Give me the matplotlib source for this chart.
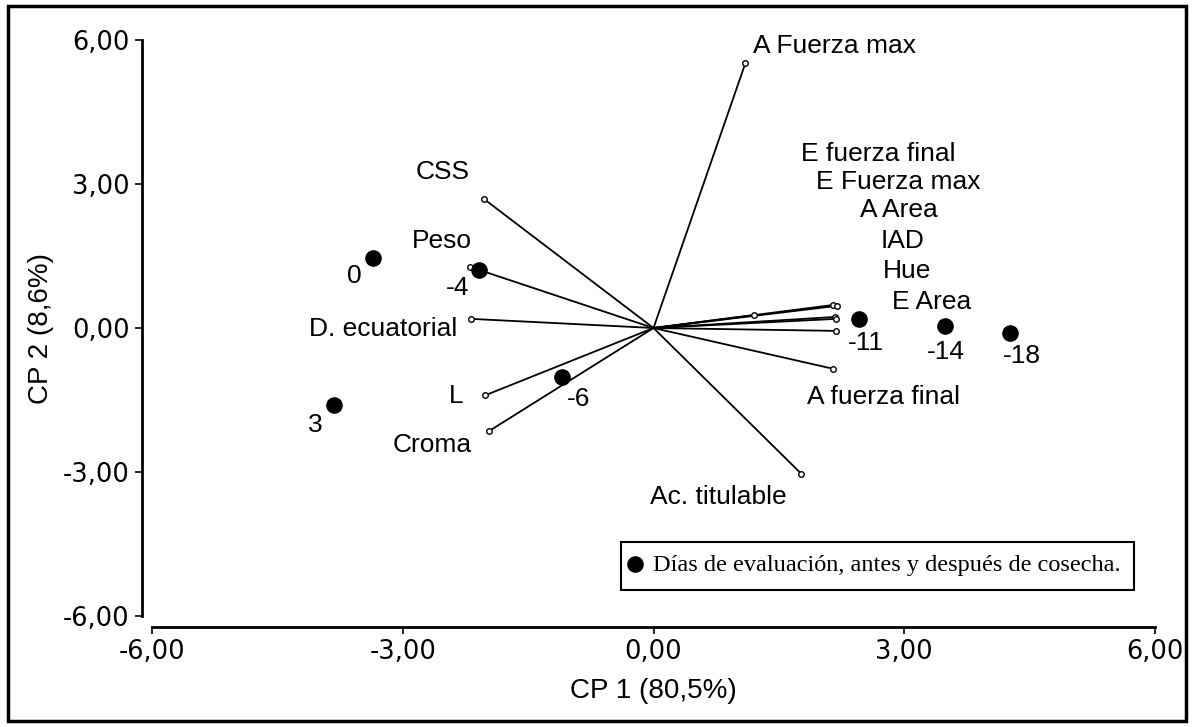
import matplotlib
matplotlib.use("Agg")
import matplotlib.pyplot as plt
from matplotlib.patches import Rectangle
from matplotlib.ticker import FixedLocator, FuncFormatter

# variable loadings (CP1, CP2)
var_names = ["A Fuerza max", "CSS", "Peso", "D. ecuatorial", "L", "Croma",
             "Ac. titulable", "A fuerza final", "E fuerza final", "E Fuerza max",
             "A Area", "IAD", "Hue", "E Area"]
var_cp1 = [1.10, -2.03, -2.19, -2.18, -2.01, -1.97, 1.77, 2.15, 2.15, 2.19,
           2.17, 2.18, 2.18, 1.20]
var_cp2 = [5.52, 2.69, 1.27, 0.19, -1.40, -2.15, -3.04, -0.85, 0.48, 0.46,
           0.23, 0.19, -0.06, 0.27]

# evaluation days (scores)
day_labels = ["0", "-4", "3", "-6", "-11", "-14", "-18"]
day_cp1 = [-3.35, -2.09, -3.82, -1.10, 2.46, 3.49, 4.26]
day_cp2 = [1.46, 1.21, -1.60, -1.02, 0.19, 0.04, -0.10]

ticks = [-6, -3, 0, 3, 6]

W, H = 1194, 727
fig = plt.figure(figsize=(W / 100, H / 100), dpi=100)
ax = fig.add_axes([152 / W, 1 - 616 / H, (1155 - 152) / W, (616 - 40) / H])
sans = "Liberation Sans"
fs = 19

for x, y in zip(var_cp1, var_cp2):
    ax.plot([0, x], [0, y], color="black", lw=1.3, zorder=2)
ax.scatter(var_cp1, var_cp2, s=16, facecolor="white", edgecolor="black",
           linewidths=1.0, zorder=3)
ax.scatter(day_cp1, day_cp2, s=120, color="black", zorder=4)


def px(x, y):
    # pixel position -> data coordinates
    return (x - 653) / 83.6, (328 - y) / 48.0


var_text = {
    "A Fuerza max": (753, 46, "left"),
    "CSS": (442, 172, "center"),
    "Peso": (441, 241, "center"),
    "D. ecuatorial": (457, 329, "right"),
    "L": (456, 396, "center"),
    "Croma": (432, 445, "center"),
    "Ac. titulable": (718, 497, "center"),
    "E fuerza final": (878, 154, "center"),
    "E Fuerza max": (898, 182, "center"),
    "A Area": (898, 210, "center"),
    "IAD": (902, 241, "center"),
    "Hue": (907, 271, "center"),
    "E Area": (931, 302, "center"),
    "A fuerza final": (883, 397, "center"),
}
for name in var_names:
    x, y, ha = var_text[name]
    tx, ty = px(x, y)
    ax.text(tx, ty, name, ha=ha, va="center", fontsize=fs, family=sans)

day_text = {"0": (354, 276), "-4": (457, 288), "3": (315, 425),
            "-6": (578, 399), "-11": (865, 343), "-14": (945, 352),
            "-18": (1021, 356)}
for lab in day_labels:
    tx, ty = px(*day_text[lab])
    ax.text(tx, ty, lab, ha="center", va="center", fontsize=fs, family=sans)

ax.set_xlim(-6, 6)
ax.set_ylim(-6, 6)
ax.xaxis.set_major_locator(FixedLocator(ticks))
ax.yaxis.set_major_locator(FixedLocator(ticks))
fmt = FuncFormatter(lambda v, p: f"{v:.2f}".replace(".", ","))
ax.xaxis.set_major_formatter(fmt)
ax.yaxis.set_major_formatter(fmt)
for lab in ax.get_xticklabels() + ax.get_yticklabels():
    lab.set_family(sans)
ax.tick_params(labelsize=18.5, width=1.2, length=5, pad=4)
ax.spines["top"].set_visible(False)
ax.spines["right"].set_visible(False)
ax.spines["left"].set_position(("outward", 7.2))
ax.spines["bottom"].set_position(("outward", 7.9))
for s in ("left", "bottom"):
    ax.spines[s].set_linewidth(2)
ax.set_xlabel("CP 1 (80,5%)", fontsize=20, family=sans, labelpad=9)
ax.set_ylabel("CP 2 (8,6%)", fontsize=20, family=sans, labelpad=6)

# legend box
leg_x0, leg_y0 = px(620, 590)
leg_x1, leg_y1 = px(1134, 542)
ax.add_patch(Rectangle((leg_x0, leg_y0), leg_x1 - leg_x0, leg_y1 - leg_y0,
                       facecolor="white", edgecolor="black", lw=1.5, zorder=5))
dx, dy = px(634, 564)
ax.scatter([dx], [dy], s=120, color="black", zorder=6)
lx, ly = px(652, 566)
ax.text(lx, ly, "Días de evaluación, antes y después de cosecha.", ha="left",
        va="center", fontsize=17.5, family="Liberation Serif", zorder=6)

# outer frame
fig.patches.append(Rectangle((8 / W, 6 / H), 1 - 16 / W, 1 - 12 / H,
                             transform=fig.transFigure, fill=False,
                             edgecolor="black", lw=2.5))

fig.savefig("out.png", dpi=100)
